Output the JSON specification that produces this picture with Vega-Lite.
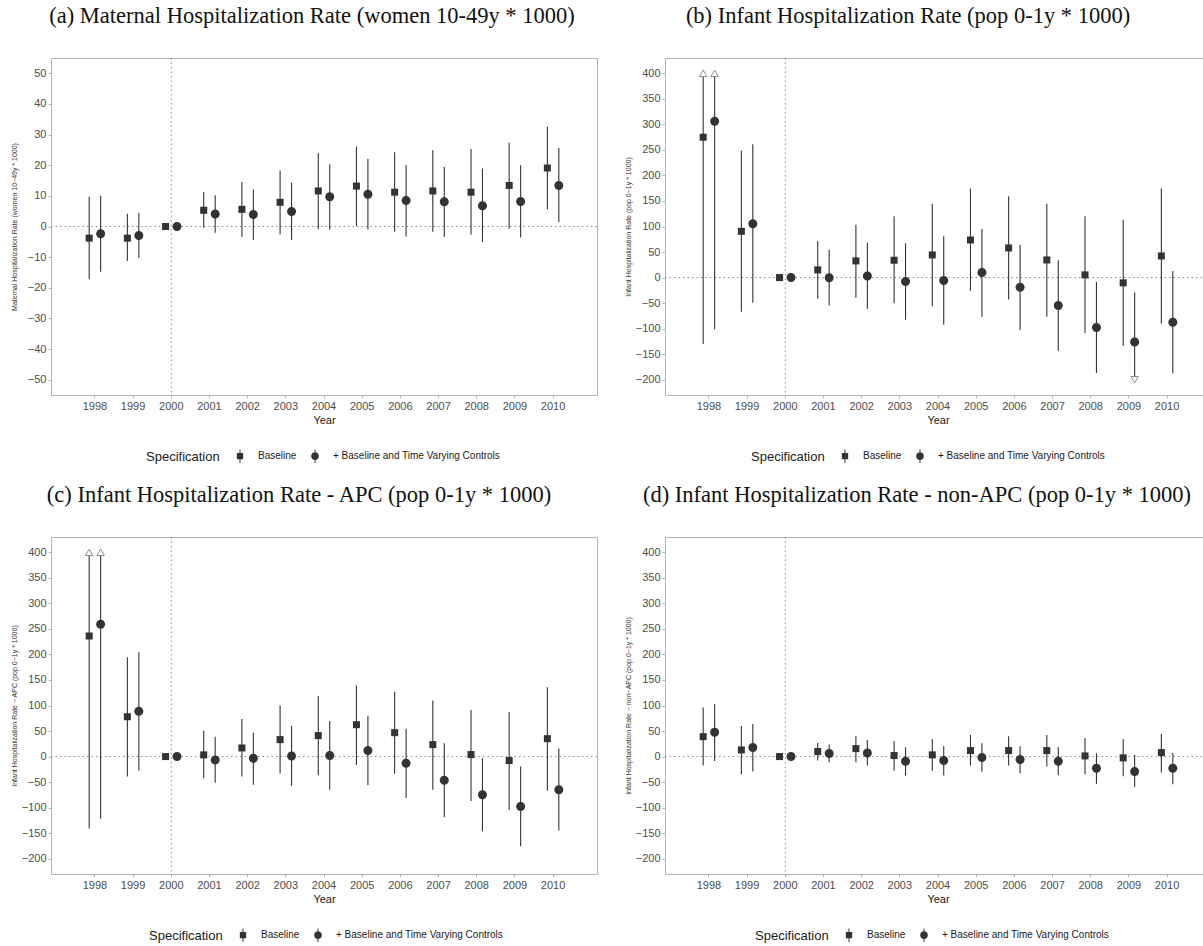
{
  "$schema": "https://vega.github.io/schema/vega-lite/v6.json",
  "background": "white",
  "padding": {"left": 9, "top": 4, "right": 0, "bottom": 0},
  "config": {
    "font": "Liberation Sans",
    "view": {"stroke": "#b3b3b3", "strokeWidth": 1},
    "axis": {"grid": false, "domain": false, "tickColor": "#b3b3b3", "tickSize": 3, "labelColor": "#4d4d4d", "labelFontSize": 11, "labelFont": "Liberation Sans", "labelOverlap": false, "titleFont": "Liberation Sans", "titleFontWeight": "normal", "titleColor": "#1a1a1a"},
    "axisX": {"labelAngle": 0, "titleFontSize": 11, "labelPadding": 2, "titlePadding": 3},
    "axisY": {"titleFontSize": 7, "labelPadding": 2, "titlePadding": 4, "titleColor": "#333333", "tickCount": 20},
    "title": {"font": "Liberation Serif", "fontSize": 22.5, "fontWeight": "normal", "color": "#111111", "anchor": "middle", "offset": 30},
    "legend": {"orient": "none", "direction": "horizontal", "titleOrient": "left", "titleFontSize": 13, "titleFontWeight": "normal", "titleColor": "#1a1a1a", "titleFont": "Liberation Sans", "labelFont": "Liberation Sans", "labelFontSize": 10, "labelColor": "#1a1a1a", "labelLimit": 0, "titlePadding": 15, "labelOffset": 13, "columnPadding": 13, "symbolSize": 81, "symbolStrokeWidth": 0, "symbolOpacity": 1, "symbolFillColor": "#333333"}
  },
  "datasets": {
    "est": [
      {"panel": "a", "year": 1998, "spec": "Baseline", "est": -3.8, "lo": -17.2, "hi": 9.7},
      {"panel": "a", "year": 1998, "spec": "+ Baseline and Time Varying Controls", "est": -2.4, "lo": -14.8, "hi": 10.0},
      {"panel": "a", "year": 1999, "spec": "Baseline", "est": -3.8, "lo": -11.3, "hi": 4.2},
      {"panel": "a", "year": 1999, "spec": "+ Baseline and Time Varying Controls", "est": -2.9, "lo": -10.2, "hi": 4.4},
      {"panel": "a", "year": 2000, "spec": "Baseline", "est": 0, "lo": 0, "hi": 0},
      {"panel": "a", "year": 2000, "spec": "+ Baseline and Time Varying Controls", "est": 0, "lo": 0, "hi": 0},
      {"panel": "a", "year": 2001, "spec": "Baseline", "est": 5.3, "lo": -0.4, "hi": 11.3},
      {"panel": "a", "year": 2001, "spec": "+ Baseline and Time Varying Controls", "est": 4.1, "lo": -2.0, "hi": 10.2},
      {"panel": "a", "year": 2002, "spec": "Baseline", "est": 5.6, "lo": -3.4, "hi": 14.5},
      {"panel": "a", "year": 2002, "spec": "+ Baseline and Time Varying Controls", "est": 3.9, "lo": -4.4, "hi": 12.1},
      {"panel": "a", "year": 2003, "spec": "Baseline", "est": 7.9, "lo": -2.6, "hi": 18.3},
      {"panel": "a", "year": 2003, "spec": "+ Baseline and Time Varying Controls", "est": 4.9, "lo": -4.4, "hi": 14.3},
      {"panel": "a", "year": 2004, "spec": "Baseline", "est": 11.6, "lo": -0.9, "hi": 23.9},
      {"panel": "a", "year": 2004, "spec": "+ Baseline and Time Varying Controls", "est": 9.7, "lo": -1.1, "hi": 20.3},
      {"panel": "a", "year": 2005, "spec": "Baseline", "est": 13.2, "lo": 0.1, "hi": 26.1},
      {"panel": "a", "year": 2005, "spec": "+ Baseline and Time Varying Controls", "est": 10.5, "lo": -1.0, "hi": 22.0},
      {"panel": "a", "year": 2006, "spec": "Baseline", "est": 11.2, "lo": -1.7, "hi": 24.2},
      {"panel": "a", "year": 2006, "spec": "+ Baseline and Time Varying Controls", "est": 8.5, "lo": -3.3, "hi": 20.1},
      {"panel": "a", "year": 2007, "spec": "Baseline", "est": 11.6, "lo": -1.7, "hi": 24.9},
      {"panel": "a", "year": 2007, "spec": "+ Baseline and Time Varying Controls", "est": 8.1, "lo": -3.4, "hi": 19.4},
      {"panel": "a", "year": 2008, "spec": "Baseline", "est": 11.2, "lo": -2.6, "hi": 25.3},
      {"panel": "a", "year": 2008, "spec": "+ Baseline and Time Varying Controls", "est": 6.8, "lo": -5.1, "hi": 18.9},
      {"panel": "a", "year": 2009, "spec": "Baseline", "est": 13.4, "lo": -0.7, "hi": 27.3},
      {"panel": "a", "year": 2009, "spec": "+ Baseline and Time Varying Controls", "est": 8.2, "lo": -3.6, "hi": 20.0},
      {"panel": "a", "year": 2010, "spec": "Baseline", "est": 19.1, "lo": 5.6, "hi": 32.6},
      {"panel": "a", "year": 2010, "spec": "+ Baseline and Time Varying Controls", "est": 13.4, "lo": 1.5, "hi": 25.6},

      {"panel": "b", "year": 1998, "spec": "Baseline", "est": 274.9, "lo": -130.3, "hi": 400},
      {"panel": "b", "year": 1998, "spec": "+ Baseline and Time Varying Controls", "est": 306.2, "lo": -101.0, "hi": 400},
      {"panel": "b", "year": 1999, "spec": "Baseline", "est": 90.6, "lo": -67.1, "hi": 248.2},
      {"panel": "b", "year": 1999, "spec": "+ Baseline and Time Varying Controls", "est": 105.5, "lo": -49.5, "hi": 261.2},
      {"panel": "b", "year": 2000, "spec": "Baseline", "est": 0, "lo": 0, "hi": 0},
      {"panel": "b", "year": 2000, "spec": "+ Baseline and Time Varying Controls", "est": 0, "lo": 0, "hi": 0},
      {"panel": "b", "year": 2001, "spec": "Baseline", "est": 15.0, "lo": -41.7, "hi": 71.0},
      {"panel": "b", "year": 2001, "spec": "+ Baseline and Time Varying Controls", "est": -0.5, "lo": -54.7, "hi": 54.7},
      {"panel": "b", "year": 2002, "spec": "Baseline", "est": 32.6, "lo": -39.7, "hi": 103.6},
      {"panel": "b", "year": 2002, "spec": "+ Baseline and Time Varying Controls", "est": 3.3, "lo": -61.2, "hi": 68.4},
      {"panel": "b", "year": 2003, "spec": "Baseline", "est": 33.9, "lo": -50.2, "hi": 119.9},
      {"panel": "b", "year": 2003, "spec": "+ Baseline and Time Varying Controls", "est": -7.8, "lo": -82.7, "hi": 67.1},
      {"panel": "b", "year": 2004, "spec": "Baseline", "est": 44.3, "lo": -56.0, "hi": 144.6},
      {"panel": "b", "year": 2004, "spec": "+ Baseline and Time Varying Controls", "est": -5.9, "lo": -92.5, "hi": 80.8},
      {"panel": "b", "year": 2005, "spec": "Baseline", "est": 73.6, "lo": -26.1, "hi": 174.6},
      {"panel": "b", "year": 2005, "spec": "+ Baseline and Time Varying Controls", "est": 9.8, "lo": -76.9, "hi": 95.8},
      {"panel": "b", "year": 2006, "spec": "Baseline", "est": 58.0, "lo": -43.0, "hi": 159.0},
      {"panel": "b", "year": 2006, "spec": "+ Baseline and Time Varying Controls", "est": -18.9, "lo": -102.9, "hi": 64.5},
      {"panel": "b", "year": 2007, "spec": "Baseline", "est": 34.5, "lo": -76.9, "hi": 144.6},
      {"panel": "b", "year": 2007, "spec": "+ Baseline and Time Varying Controls", "est": -54.7, "lo": -143.3, "hi": 33.9},
      {"panel": "b", "year": 2008, "spec": "Baseline", "est": 5.2, "lo": -108.8, "hi": 119.9},
      {"panel": "b", "year": 2008, "spec": "+ Baseline and Time Varying Controls", "est": -97.7, "lo": -187.0, "hi": -8.5},
      {"panel": "b", "year": 2009, "spec": "Baseline", "est": -10.4, "lo": -133.6, "hi": 113.4},
      {"panel": "b", "year": 2009, "spec": "+ Baseline and Time Varying Controls", "est": -126.4, "lo": -200, "hi": -29.3},
      {"panel": "b", "year": 2010, "spec": "Baseline", "est": 42.3, "lo": -89.9, "hi": 174.6},
      {"panel": "b", "year": 2010, "spec": "+ Baseline and Time Varying Controls", "est": -87.3, "lo": -187.6, "hi": 13.0},

      {"panel": "c", "year": 1998, "spec": "Baseline", "est": 236.1, "lo": -141.1, "hi": 400},
      {"panel": "c", "year": 1998, "spec": "+ Baseline and Time Varying Controls", "est": 258.9, "lo": -121.6, "hi": 400},
      {"panel": "c", "year": 1999, "spec": "Baseline", "est": 78.0, "lo": -39.0, "hi": 194.5},
      {"panel": "c", "year": 1999, "spec": "+ Baseline and Time Varying Controls", "est": 88.5, "lo": -27.3, "hi": 204.2},
      {"panel": "c", "year": 2000, "spec": "Baseline", "est": 0, "lo": 0, "hi": 0},
      {"panel": "c", "year": 2000, "spec": "+ Baseline and Time Varying Controls", "est": 0, "lo": 0, "hi": 0},
      {"panel": "c", "year": 2001, "spec": "Baseline", "est": 3.3, "lo": -42.3, "hi": 50.7},
      {"panel": "c", "year": 2001, "spec": "+ Baseline and Time Varying Controls", "est": -6.5, "lo": -51.4, "hi": 39.0},
      {"panel": "c", "year": 2002, "spec": "Baseline", "est": 16.9, "lo": -39.0, "hi": 73.5},
      {"panel": "c", "year": 2002, "spec": "+ Baseline and Time Varying Controls", "est": -3.3, "lo": -55.3, "hi": 46.8},
      {"panel": "c", "year": 2003, "spec": "Baseline", "est": 33.2, "lo": -33.2, "hi": 100.2},
      {"panel": "c", "year": 2003, "spec": "+ Baseline and Time Varying Controls", "est": 1.3, "lo": -57.2, "hi": 59.8},
      {"panel": "c", "year": 2004, "spec": "Baseline", "est": 41.0, "lo": -36.4, "hi": 118.4},
      {"panel": "c", "year": 2004, "spec": "+ Baseline and Time Varying Controls", "est": 2.0, "lo": -65.0, "hi": 69.6},
      {"panel": "c", "year": 2005, "spec": "Baseline", "est": 62.4, "lo": -16.3, "hi": 139.2},
      {"panel": "c", "year": 2005, "spec": "+ Baseline and Time Varying Controls", "est": 11.7, "lo": -55.9, "hi": 79.3},
      {"panel": "c", "year": 2006, "spec": "Baseline", "est": 46.8, "lo": -33.8, "hi": 126.8},
      {"panel": "c", "year": 2006, "spec": "+ Baseline and Time Varying Controls", "est": -13.0, "lo": -81.3, "hi": 54.6},
      {"panel": "c", "year": 2007, "spec": "Baseline", "est": 23.4, "lo": -65.0, "hi": 109.9},
      {"panel": "c", "year": 2007, "spec": "+ Baseline and Time Varying Controls", "est": -46.2, "lo": -119.0, "hi": 26.0},
      {"panel": "c", "year": 2008, "spec": "Baseline", "est": 3.9, "lo": -87.2, "hi": 91.1},
      {"panel": "c", "year": 2008, "spec": "+ Baseline and Time Varying Controls", "est": -74.8, "lo": -146.3, "hi": -3.3},
      {"panel": "c", "year": 2009, "spec": "Baseline", "est": -7.8, "lo": -104.1, "hi": 87.2},
      {"panel": "c", "year": 2009, "spec": "+ Baseline and Time Varying Controls", "est": -97.6, "lo": -175.6, "hi": -19.5},
      {"panel": "c", "year": 2010, "spec": "Baseline", "est": 35.1, "lo": -67.0, "hi": 135.9},
      {"panel": "c", "year": 2010, "spec": "+ Baseline and Time Varying Controls", "est": -65.0, "lo": -145.0, "hi": 15.6},

      {"panel": "d", "year": 1998, "spec": "Baseline", "est": 39.0, "lo": -17.6, "hi": 96.3},
      {"panel": "d", "year": 1998, "spec": "+ Baseline and Time Varying Controls", "est": 47.5, "lo": -8.5, "hi": 102.8},
      {"panel": "d", "year": 1999, "spec": "Baseline", "est": 13.0, "lo": -34.5, "hi": 59.8},
      {"panel": "d", "year": 1999, "spec": "+ Baseline and Time Varying Controls", "est": 17.6, "lo": -29.3, "hi": 63.7},
      {"panel": "d", "year": 2000, "spec": "Baseline", "est": 0, "lo": 0, "hi": 0},
      {"panel": "d", "year": 2000, "spec": "+ Baseline and Time Varying Controls", "est": 0, "lo": 0, "hi": 0},
      {"panel": "d", "year": 2001, "spec": "Baseline", "est": 9.8, "lo": -7.8, "hi": 26.7},
      {"panel": "d", "year": 2001, "spec": "+ Baseline and Time Varying Controls", "est": 5.9, "lo": -11.1, "hi": 23.4},
      {"panel": "d", "year": 2002, "spec": "Baseline", "est": 15.6, "lo": -11.1, "hi": 39.7},
      {"panel": "d", "year": 2002, "spec": "+ Baseline and Time Varying Controls", "est": 7.2, "lo": -17.6, "hi": 32.5},
      {"panel": "d", "year": 2003, "spec": "Baseline", "est": 2.0, "lo": -27.3, "hi": 30.6},
      {"panel": "d", "year": 2003, "spec": "+ Baseline and Time Varying Controls", "est": -9.1, "lo": -37.1, "hi": 18.2},
      {"panel": "d", "year": 2004, "spec": "Baseline", "est": 3.3, "lo": -28.0, "hi": 34.5},
      {"panel": "d", "year": 2004, "spec": "+ Baseline and Time Varying Controls", "est": -7.8, "lo": -37.1, "hi": 20.8},
      {"panel": "d", "year": 2005, "spec": "Baseline", "est": 11.7, "lo": -17.6, "hi": 42.3},
      {"panel": "d", "year": 2005, "spec": "+ Baseline and Time Varying Controls", "est": -2.0, "lo": -29.9, "hi": 26.0},
      {"panel": "d", "year": 2006, "spec": "Baseline", "est": 11.7, "lo": -17.6, "hi": 39.7},
      {"panel": "d", "year": 2006, "spec": "+ Baseline and Time Varying Controls", "est": -5.9, "lo": -32.5, "hi": 20.2},
      {"panel": "d", "year": 2007, "spec": "Baseline", "est": 11.7, "lo": -19.5, "hi": 42.3},
      {"panel": "d", "year": 2007, "spec": "+ Baseline and Time Varying Controls", "est": -9.1, "lo": -36.4, "hi": 18.9},
      {"panel": "d", "year": 2008, "spec": "Baseline", "est": 1.3, "lo": -34.5, "hi": 36.4},
      {"panel": "d", "year": 2008, "spec": "+ Baseline and Time Varying Controls", "est": -22.8, "lo": -53.3, "hi": 6.5},
      {"panel": "d", "year": 2009, "spec": "Baseline", "est": -2.6, "lo": -38.4, "hi": 34.5},
      {"panel": "d", "year": 2009, "spec": "+ Baseline and Time Varying Controls", "est": -29.3, "lo": -59.8, "hi": 3.3},
      {"panel": "d", "year": 2010, "spec": "Baseline", "est": 7.8, "lo": -31.2, "hi": 44.9},
      {"panel": "d", "year": 2010, "spec": "+ Baseline and Time Varying Controls", "est": -22.8, "lo": -54.0, "hi": 7.2}
    ],
    "arrows": [
      {"panel": "b", "year": 1998, "spec": "Baseline", "value": 400, "dir": "up"},
      {"panel": "b", "year": 1998, "spec": "+ Baseline and Time Varying Controls", "value": 400, "dir": "up"},
      {"panel": "b", "year": 2009, "spec": "+ Baseline and Time Varying Controls", "value": -200, "dir": "down"},
      {"panel": "c", "year": 1998, "spec": "Baseline", "value": 400, "dir": "up"},
      {"panel": "c", "year": 1998, "spec": "+ Baseline and Time Varying Controls", "value": 400, "dir": "up"}
    ],
    "zero": [{"ref": 0}],
    "base": [{"year": 2000}]
  },
  "columns": 2,
  "align": "none",
  "spacing": {"row": 18, "column": 25},
  "resolve": {"scale": {"shape": "independent", "xOffset": "independent"}, "legend": {"shape": "independent"}},
  "concat": [
    {
      "width": 546, "height": 337,
      "title": {"text": "(a) Maternal Hospitalization Rate (women 10-49y * 1000)", "dx": -12},
      "resolve": {"scale": {"shape": "independent"}, "legend": {"shape": "independent"}},
      "layer": [
        {"data": {"name": "zero"}, "mark": {"type": "rule", "color": "#8c8c8c", "strokeDash": [1.5, 3], "strokeWidth": 1},
         "encoding": {"y": {"field": "ref", "type": "quantitative", "title": "Maternal Hospitalization Rate (women 10−49y * 1000)", "scale": {"domain": [-55, 55], "nice": false, "zero": false}, "axis": {"values": [-50, -40, -30, -20, -10, 0, 10, 20, 30, 40, 50], "tickCount": 20, "labelOverlap": false, "titlePadding": 10}}}},
        {"data": {"name": "base"}, "mark": {"type": "rule", "color": "#8c8c8c", "strokeDash": [1.5, 3], "strokeWidth": 1},
         "encoding": {"x": {"field": "year", "type": "ordinal", "title": "Year", "scale": {"paddingInner": 0.4, "paddingOuter": 0.85}}}},
        {"data": {"name": "est"}, "transform": [{"filter": "datum.panel === 'a'"}],
         "mark": {"type": "rule", "color": "#333333", "strokeWidth": 1.1},
         "encoding": {
           "x": {"field": "year", "type": "ordinal", "title": "Year", "scale": {"paddingInner": 0.4, "paddingOuter": 0.85}},
           "xOffset": {"field": "spec", "type": "nominal", "scale": {"domain": ["Baseline", "+ Baseline and Time Varying Controls"], "paddingInner": 0, "paddingOuter": 0}},
           "y": {"field": "lo", "type": "quantitative", "title": "Maternal Hospitalization Rate (women 10−49y * 1000)", "scale": {"domain": [-55, 55], "nice": false, "zero": false}, "axis": {"values": [-50, -40, -30, -20, -10, 0, 10, 20, 30, 40, 50], "tickCount": 20, "labelOverlap": false, "titlePadding": 10}},
           "y2": {"field": "hi"}}},
        {"data": {"name": "est"}, "transform": [{"filter": "datum.panel === 'a'"}],
         "mark": {"type": "point", "filled": true, "color": "#333333", "opacity": 1, "size": 81},
         "encoding": {
           "x": {"field": "year", "type": "ordinal", "title": "Year"},
           "xOffset": {"field": "spec", "type": "nominal"},
           "y": {"field": "est", "type": "quantitative", "title": "Maternal Hospitalization Rate (women 10−49y * 1000)"},
           "shape": {"field": "spec", "type": "nominal", "scale": {"domain": ["Baseline", "+ Baseline and Time Varying Controls"], "range": ["M-0.78,-0.78H0.78V0.78H-0.78Z", "M-1,0A1,1 0 1,1 1,0A1,1 0 1,1 -1,0Z"]}, "legend": null}}},
        {"data": {"name": "est"}, "transform": [{"filter": "datum.panel === 'a'"}],
         "mark": {"type": "point", "filled": true, "color": "#333333", "opacity": 0, "size": 81},
         "encoding": {
           "x": {"field": "year", "type": "ordinal", "title": "Year"},
           "xOffset": {"field": "spec", "type": "nominal"},
           "y": {"field": "est", "type": "quantitative", "title": "Maternal Hospitalization Rate (women 10−49y * 1000)"},
           "shape": {"field": "spec", "type": "nominal", "title": "Specification", "scale": {"domain": ["Baseline", "+ Baseline and Time Varying Controls"], "range": ["M-0.7,-0.7H0.7V0.7H-0.7Z M-0.11,-1.5H0.11V1.5H-0.11Z", "M-0.85,0A0.85,0.85 0 1,1 0.85,0A0.85,0.85 0 1,1 -0.85,0Z M-0.11,-1.5H0.11V1.5H-0.11Z"]},
             "legend": {"legendX": 95, "legendY": 393, "encode": {"symbols": {"update": {"opacity": {"value": 1}}}}}}}}
      ]
    },
    {
      "width": 546, "height": 337,
      "title": {"text": "(b) Infant Hospitalization Rate (pop 0-1y * 1000)", "dx": -30},
      "resolve": {"scale": {"shape": "independent"}, "legend": {"shape": "independent"}},
      "layer": [
        {"data": {"name": "zero"}, "mark": {"type": "rule", "color": "#8c8c8c", "strokeDash": [1.5, 3], "strokeWidth": 1},
         "encoding": {"y": {"field": "ref", "type": "quantitative", "title": "Infant Hospitalization Rate (pop 0−1y * 1000)", "scale": {"domain": [-230, 430], "nice": false, "zero": false}, "axis": {"values": [-200, -150, -100, -50, 0, 50, 100, 150, 200, 250, 300, 350, 400], "tickCount": 20, "labelOverlap": false}}}},
        {"data": {"name": "base"}, "mark": {"type": "rule", "color": "#8c8c8c", "strokeDash": [1.5, 3], "strokeWidth": 1},
         "encoding": {"x": {"field": "year", "type": "ordinal", "title": "Year", "scale": {"paddingInner": 0.4, "paddingOuter": 0.85}}}},
        {"data": {"name": "est"}, "transform": [{"filter": "datum.panel === 'b'"}],
         "mark": {"type": "rule", "color": "#333333", "strokeWidth": 1.1},
         "encoding": {
           "x": {"field": "year", "type": "ordinal", "title": "Year", "scale": {"paddingInner": 0.4, "paddingOuter": 0.85}},
           "xOffset": {"field": "spec", "type": "nominal", "scale": {"domain": ["Baseline", "+ Baseline and Time Varying Controls"], "paddingInner": 0, "paddingOuter": 0}},
           "y": {"field": "lo", "type": "quantitative", "title": "Infant Hospitalization Rate (pop 0−1y * 1000)", "scale": {"domain": [-230, 430], "nice": false, "zero": false}, "axis": {"values": [-200, -150, -100, -50, 0, 50, 100, 150, 200, 250, 300, 350, 400], "tickCount": 20, "labelOverlap": false}},
           "y2": {"field": "hi"}}},
        {"data": {"name": "arrows"}, "transform": [{"filter": "datum.panel === 'b' && datum.dir === 'up'"}],
         "mark": {"type": "point", "shape": "triangle-up", "filled": false, "fill": "white", "fillOpacity": 1, "stroke": "#8c8c8c", "strokeWidth": 1, "opacity": 1, "size": 55},
         "encoding": {
           "x": {"field": "year", "type": "ordinal", "title": "Year"},
           "xOffset": {"field": "spec", "type": "nominal"},
           "y": {"field": "value", "type": "quantitative", "title": "Infant Hospitalization Rate (pop 0−1y * 1000)"}}},
        {"data": {"name": "arrows"}, "transform": [{"filter": "datum.panel === 'b' && datum.dir === 'down'"}],
         "mark": {"type": "point", "shape": "triangle-down", "filled": false, "fill": "white", "fillOpacity": 1, "stroke": "#8c8c8c", "strokeWidth": 1, "opacity": 1, "size": 55},
         "encoding": {
           "x": {"field": "year", "type": "ordinal", "title": "Year"},
           "xOffset": {"field": "spec", "type": "nominal"},
           "y": {"field": "value", "type": "quantitative", "title": "Infant Hospitalization Rate (pop 0−1y * 1000)"}}},
        {"data": {"name": "est"}, "transform": [{"filter": "datum.panel === 'b'"}],
         "mark": {"type": "point", "filled": true, "color": "#333333", "opacity": 1, "size": 81},
         "encoding": {
           "x": {"field": "year", "type": "ordinal", "title": "Year"},
           "xOffset": {"field": "spec", "type": "nominal"},
           "y": {"field": "est", "type": "quantitative", "title": "Infant Hospitalization Rate (pop 0−1y * 1000)"},
           "shape": {"field": "spec", "type": "nominal", "scale": {"domain": ["Baseline", "+ Baseline and Time Varying Controls"], "range": ["M-0.78,-0.78H0.78V0.78H-0.78Z", "M-1,0A1,1 0 1,1 1,0A1,1 0 1,1 -1,0Z"]}, "legend": null}}},
        {"data": {"name": "est"}, "transform": [{"filter": "datum.panel === 'b'"}],
         "mark": {"type": "point", "filled": true, "color": "#333333", "opacity": 0, "size": 81},
         "encoding": {
           "x": {"field": "year", "type": "ordinal", "title": "Year"},
           "xOffset": {"field": "spec", "type": "nominal"},
           "y": {"field": "est", "type": "quantitative", "title": "Infant Hospitalization Rate (pop 0−1y * 1000)"},
           "shape": {"field": "spec", "type": "nominal", "title": "Specification", "scale": {"domain": ["Baseline", "+ Baseline and Time Varying Controls"], "range": ["M-0.7,-0.7H0.7V0.7H-0.7Z M-0.11,-1.5H0.11V1.5H-0.11Z", "M-0.85,0A0.85,0.85 0 1,1 0.85,0A0.85,0.85 0 1,1 -0.85,0Z M-0.11,-1.5H0.11V1.5H-0.11Z"]},
             "legend": {"legendX": 86, "legendY": 393, "encode": {"symbols": {"update": {"opacity": {"value": 1}}}}}}}}
      ]
    },
    {
      "width": 546, "height": 337,
      "title": {"text": "(c) Infant Hospitalization Rate - APC (pop 0-1y * 1000)", "dx": -25},
      "resolve": {"scale": {"shape": "independent"}, "legend": {"shape": "independent"}},
      "layer": [
        {"data": {"name": "zero"}, "mark": {"type": "rule", "color": "#8c8c8c", "strokeDash": [1.5, 3], "strokeWidth": 1},
         "encoding": {"y": {"field": "ref", "type": "quantitative", "title": "Infant Hospitalization Rate − APC (pop 0−1y * 1000)", "scale": {"domain": [-230, 430], "nice": false, "zero": false}, "axis": {"values": [-200, -150, -100, -50, 0, 50, 100, 150, 200, 250, 300, 350, 400], "tickCount": 20, "labelOverlap": false}}}},
        {"data": {"name": "base"}, "mark": {"type": "rule", "color": "#8c8c8c", "strokeDash": [1.5, 3], "strokeWidth": 1},
         "encoding": {"x": {"field": "year", "type": "ordinal", "title": "Year", "scale": {"paddingInner": 0.4, "paddingOuter": 0.85}}}},
        {"data": {"name": "est"}, "transform": [{"filter": "datum.panel === 'c'"}],
         "mark": {"type": "rule", "color": "#333333", "strokeWidth": 1.1},
         "encoding": {
           "x": {"field": "year", "type": "ordinal", "title": "Year", "scale": {"paddingInner": 0.4, "paddingOuter": 0.85}},
           "xOffset": {"field": "spec", "type": "nominal", "scale": {"domain": ["Baseline", "+ Baseline and Time Varying Controls"], "paddingInner": 0, "paddingOuter": 0}},
           "y": {"field": "lo", "type": "quantitative", "title": "Infant Hospitalization Rate − APC (pop 0−1y * 1000)", "scale": {"domain": [-230, 430], "nice": false, "zero": false}, "axis": {"values": [-200, -150, -100, -50, 0, 50, 100, 150, 200, 250, 300, 350, 400], "tickCount": 20, "labelOverlap": false}},
           "y2": {"field": "hi"}}},
        {"data": {"name": "arrows"}, "transform": [{"filter": "datum.panel === 'c' && datum.dir === 'up'"}],
         "mark": {"type": "point", "shape": "triangle-up", "filled": false, "fill": "white", "fillOpacity": 1, "stroke": "#8c8c8c", "strokeWidth": 1, "opacity": 1, "size": 55},
         "encoding": {
           "x": {"field": "year", "type": "ordinal", "title": "Year"},
           "xOffset": {"field": "spec", "type": "nominal"},
           "y": {"field": "value", "type": "quantitative", "title": "Infant Hospitalization Rate − APC (pop 0−1y * 1000)"}}},
        {"data": {"name": "est"}, "transform": [{"filter": "datum.panel === 'c'"}],
         "mark": {"type": "point", "filled": true, "color": "#333333", "opacity": 1, "size": 81},
         "encoding": {
           "x": {"field": "year", "type": "ordinal", "title": "Year"},
           "xOffset": {"field": "spec", "type": "nominal"},
           "y": {"field": "est", "type": "quantitative", "title": "Infant Hospitalization Rate − APC (pop 0−1y * 1000)"},
           "shape": {"field": "spec", "type": "nominal", "scale": {"domain": ["Baseline", "+ Baseline and Time Varying Controls"], "range": ["M-0.78,-0.78H0.78V0.78H-0.78Z", "M-1,0A1,1 0 1,1 1,0A1,1 0 1,1 -1,0Z"]}, "legend": null}}},
        {"data": {"name": "est"}, "transform": [{"filter": "datum.panel === 'c'"}],
         "mark": {"type": "point", "filled": true, "color": "#333333", "opacity": 0, "size": 81},
         "encoding": {
           "x": {"field": "year", "type": "ordinal", "title": "Year"},
           "xOffset": {"field": "spec", "type": "nominal"},
           "y": {"field": "est", "type": "quantitative", "title": "Infant Hospitalization Rate − APC (pop 0−1y * 1000)"},
           "shape": {"field": "spec", "type": "nominal", "title": "Specification", "scale": {"domain": ["Baseline", "+ Baseline and Time Varying Controls"], "range": ["M-0.7,-0.7H0.7V0.7H-0.7Z M-0.11,-1.5H0.11V1.5H-0.11Z", "M-0.85,0A0.85,0.85 0 1,1 0.85,0A0.85,0.85 0 1,1 -0.85,0Z M-0.11,-1.5H0.11V1.5H-0.11Z"]},
             "legend": {"legendX": 98, "legendY": 393, "encode": {"symbols": {"update": {"opacity": {"value": 1}}}}}}}}
      ]
    },
    {
      "width": 546, "height": 337,
      "title": {"text": "(d) Infant Hospitalization Rate - non-APC (pop 0-1y * 1000)", "dx": -21},
      "resolve": {"scale": {"shape": "independent"}, "legend": {"shape": "independent"}},
      "layer": [
        {"data": {"name": "zero"}, "mark": {"type": "rule", "color": "#8c8c8c", "strokeDash": [1.5, 3], "strokeWidth": 1},
         "encoding": {"y": {"field": "ref", "type": "quantitative", "title": "Infant Hospitalization Rate − non−APC (pop 0−1y * 1000)", "scale": {"domain": [-230, 430], "nice": false, "zero": false}, "axis": {"values": [-200, -150, -100, -50, 0, 50, 100, 150, 200, 250, 300, 350, 400], "tickCount": 20, "labelOverlap": false}}}},
        {"data": {"name": "base"}, "mark": {"type": "rule", "color": "#8c8c8c", "strokeDash": [1.5, 3], "strokeWidth": 1},
         "encoding": {"x": {"field": "year", "type": "ordinal", "title": "Year", "scale": {"paddingInner": 0.4, "paddingOuter": 0.85}}}},
        {"data": {"name": "est"}, "transform": [{"filter": "datum.panel === 'd'"}],
         "mark": {"type": "rule", "color": "#333333", "strokeWidth": 1.1},
         "encoding": {
           "x": {"field": "year", "type": "ordinal", "title": "Year", "scale": {"paddingInner": 0.4, "paddingOuter": 0.85}},
           "xOffset": {"field": "spec", "type": "nominal", "scale": {"domain": ["Baseline", "+ Baseline and Time Varying Controls"], "paddingInner": 0, "paddingOuter": 0}},
           "y": {"field": "lo", "type": "quantitative", "title": "Infant Hospitalization Rate − non−APC (pop 0−1y * 1000)", "scale": {"domain": [-230, 430], "nice": false, "zero": false}, "axis": {"values": [-200, -150, -100, -50, 0, 50, 100, 150, 200, 250, 300, 350, 400], "tickCount": 20, "labelOverlap": false}},
           "y2": {"field": "hi"}}},
        {"data": {"name": "est"}, "transform": [{"filter": "datum.panel === 'd'"}],
         "mark": {"type": "point", "filled": true, "color": "#333333", "opacity": 1, "size": 81},
         "encoding": {
           "x": {"field": "year", "type": "ordinal", "title": "Year"},
           "xOffset": {"field": "spec", "type": "nominal"},
           "y": {"field": "est", "type": "quantitative", "title": "Infant Hospitalization Rate − non−APC (pop 0−1y * 1000)"},
           "shape": {"field": "spec", "type": "nominal", "scale": {"domain": ["Baseline", "+ Baseline and Time Varying Controls"], "range": ["M-0.78,-0.78H0.78V0.78H-0.78Z", "M-1,0A1,1 0 1,1 1,0A1,1 0 1,1 -1,0Z"]}, "legend": null}}},
        {"data": {"name": "est"}, "transform": [{"filter": "datum.panel === 'd'"}],
         "mark": {"type": "point", "filled": true, "color": "#333333", "opacity": 0, "size": 81},
         "encoding": {
           "x": {"field": "year", "type": "ordinal", "title": "Year"},
           "xOffset": {"field": "spec", "type": "nominal"},
           "y": {"field": "est", "type": "quantitative", "title": "Infant Hospitalization Rate − non−APC (pop 0−1y * 1000)"},
           "shape": {"field": "spec", "type": "nominal", "title": "Specification", "scale": {"domain": ["Baseline", "+ Baseline and Time Varying Controls"], "range": ["M-0.7,-0.7H0.7V0.7H-0.7Z M-0.11,-1.5H0.11V1.5H-0.11Z", "M-0.85,0A0.85,0.85 0 1,1 0.85,0A0.85,0.85 0 1,1 -0.85,0Z M-0.11,-1.5H0.11V1.5H-0.11Z"]},
             "legend": {"legendX": 90, "legendY": 393, "encode": {"symbols": {"update": {"opacity": {"value": 1}}}}}}}}
      ]
    }
  ]
}
